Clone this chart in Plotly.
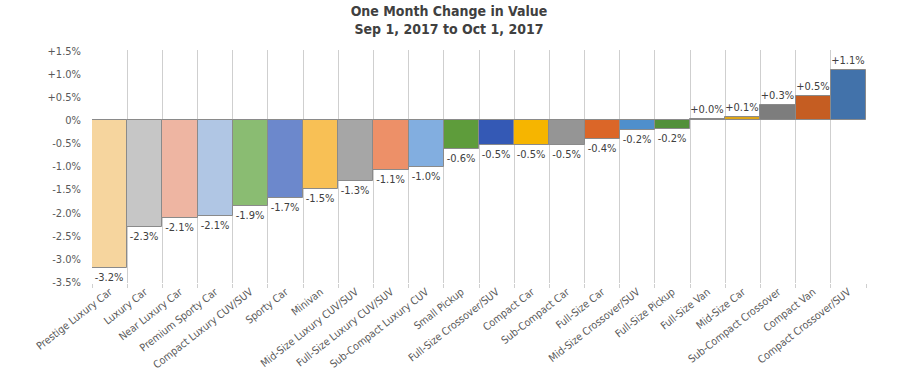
import plotly.graph_objects as go

categories = [
    "Prestige Luxury Car", "Luxury Car", "Near Luxury Car", "Premium Sporty Car",
    "Compact Luxury CUV/SUV", "Sporty Car", "Minivan", "Mid-Size Luxury CUV/SUV",
    "Full-Size Luxury CUV/SUV", "Sub-Compact Luxury CUV", "Small Pickup",
    "Full-Size Crossover/SUV", "Compact Car", "Sub-Compact Car", "Full-Size Car",
    "Mid-Size Crossover/SUV", "Full-Size Pickup", "Full-Size Van", "Mid-Size Car",
    "Sub-Compact Crossover", "Compact Van", "Compact Crossover/SUV",
]
change_pct = [
    -3.2, -2.3, -2.12, -2.08, -1.86, -1.68, -1.48, -1.32, -1.07, -1.0, -0.62,
    -0.53, -0.53, -0.53, -0.4, -0.22, -0.19, 0.02, 0.08, 0.34, 0.53, 1.08,
]
bar_colors = [
    "#F6D59E", "#C6C6C6", "#EEB5A2", "#B0C6E4", "#8ABC72", "#6C88CC", "#F8C055",
    "#A6A6A6", "#ED9068", "#82AEE0", "#5E9C3B", "#3459B5", "#F6B500", "#959595",
    "#DB6628", "#4F8FCC", "#52903A", "#8C8C8C", "#DDA518", "#7D7D7D", "#C55D22",
    "#4272AA",
]
y_ticks = [1.5, 1.0, 0.5, 0.0, -0.5, -1.0, -1.5, -2.0, -2.5, -3.0, -3.5]
y_ticktext = [("0%" if v == 0 else f"{v:+.1f}%") for v in y_ticks]
bar_text = [f"{v:+.1f}%" for v in change_pct]

FONT = "Liberation Sans Narrow, Arial Narrow, DejaVu Sans Condensed, sans-serif"

fig = go.Figure(
    go.Bar(
        x=categories,
        y=change_pct,
        text=bar_text,
        texttemplate="%{text}",
        marker=dict(color=bar_colors, line=dict(color="#8A8A8A", width=1)),
        textposition="outside",
        textfont=dict(family=FONT, size=11, color="#404040"),
        cliponaxis=False,
    )
)

fig.update_layout(
    width=898,
    height=381,
    margin=dict(l=92, r=32, t=50, b=98),
    paper_bgcolor="white",
    plot_bgcolor="white",
    bargap=0,
    showlegend=False,
    title=dict(
        text="One Month Change in Value<br>Sep 1, 2017 to Oct 1, 2017",
        x=0.5,
        xanchor="center",
        y=0.9585,
        yanchor="top",
        font=dict(family=FONT, size=14, color="#404040", weight="bold"),
    ),
    font=dict(family=FONT, size=11, color="#595959"),
)

fig.update_xaxes(
    type="category",
    tickson="boundaries",
    automargin=False,
    showgrid=True,
    gridcolor="#CFCFCF",
    gridwidth=1,
    ticks="outside",
    ticklen=4,
    tickcolor="#CFCFCF",
    tickangle=-38,
    tickfont=dict(family=FONT, size=10.5, color="#595959"),
    showline=False,
    zeroline=False,
)
fig.update_yaxes(
    range=[-3.52, 1.52],
    automargin=False,
    tickvals=y_ticks,
    ticktext=y_ticktext,
    showgrid=False,
    zeroline=False,
    showline=False,
    ticks="",
    ticklabelstandoff=10,
    tickfont=dict(family=FONT, size=11, color="#595959"),
)

fig.write_html(
    "out.html",
    config={"displayModeBar": False},
    post_script="document.body.style.margin='0';document.body.style.overflow='hidden';",
)
